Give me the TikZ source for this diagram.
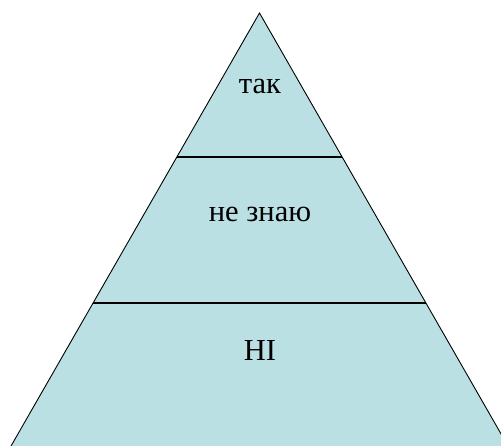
\documentclass[tikz,border=0pt]{standalone}
\usepackage{fontspec}
\setmainfont{Liberation Serif}
\definecolor{tierfill}{HTML}{BBE0E3}
\begin{document}
\begin{tikzpicture}[x=1pt,y=1pt,
  tier/.style={fill=tierfill,draw=black,line width=0.9pt,line join=miter},
  divider/.style={draw=black,line width=1.6pt},
  label/.style={font=\fontsize{30.5}{34}\selectfont,inner sep=0pt}]
\useasboundingbox (0,0) rectangle (501,446);
\clip (0,0) rectangle (501,446);
% pyramid outline
\coordinate (apex) at (259.5,433);
\coordinate (bl) at (3,-14);
\coordinate (br) at (516,-14);
\draw[tier] (bl) -- (apex) -- (br) -- cycle;
% tier dividers
\coordinate (d1l) at (176.7,288.7);
\coordinate (d1r) at (342.3,288.7);
\coordinate (d2l) at (93.1,143);
\coordinate (d2r) at (425.9,143);
\draw[divider] (d1l) -- (d1r);
\draw[divider] (d2l) -- (d2r);
% tier labels
\node[label] (top) at (260,359) {так};
\node[label] (mid) at (260,232) {не знаю};
\node[label] (bot) at (260,95) {НІ};
\end{tikzpicture}
\end{document}
